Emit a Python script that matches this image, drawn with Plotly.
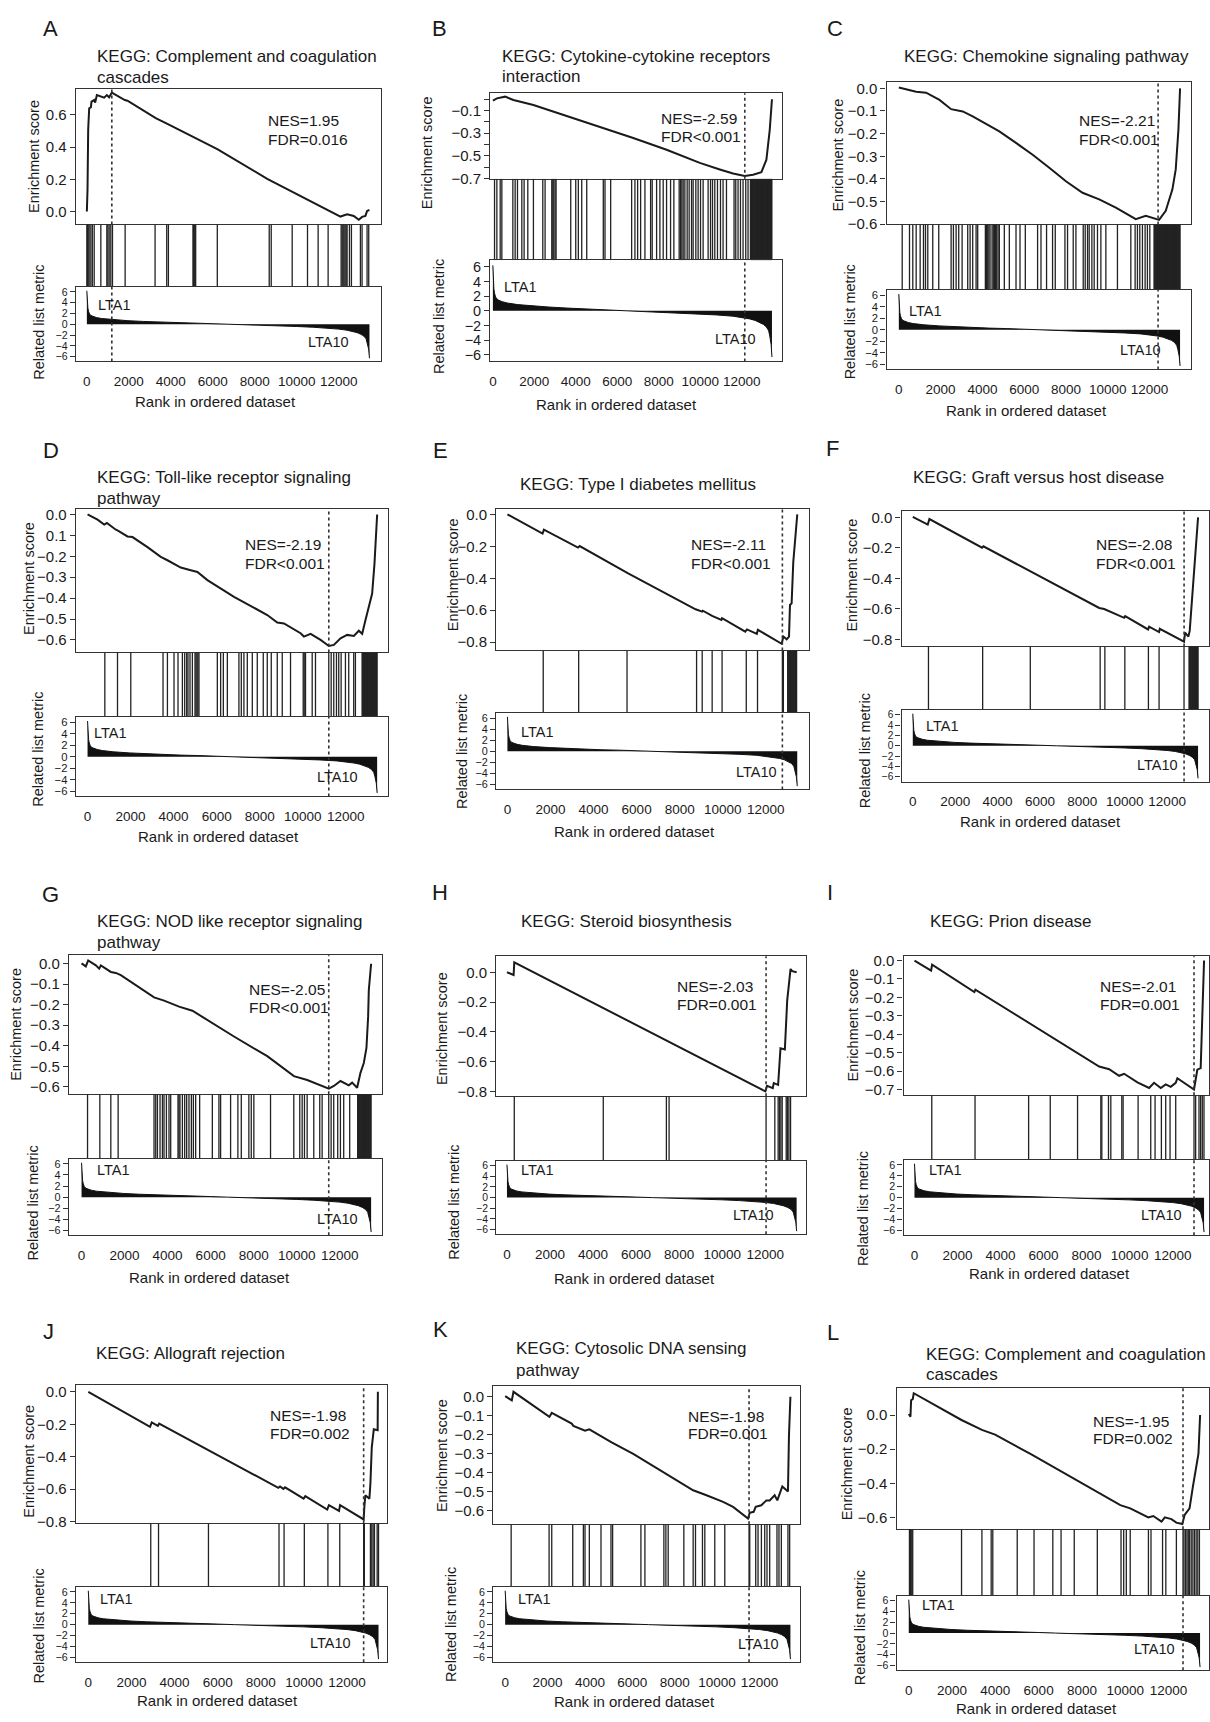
import plotly.graph_objects as go

# ------------------------------------------------------------------ data
rank_ticks = [0, 2000, 4000, 6000, 8000, 10000, 12000]
rank_tick_text = ["0", "2000", "4000", "6000", "8000", "10000", "12000"]
metric_ticks = [6, 4, 2, 0, -2, -4, -6]
metric_tick_text = ["6", "4", "2", "0", "\u22122", "\u22124", "\u22126"]

# ranked list metric (shared by all panels)
metric_rank = [0, 10, 25, 48, 80, 128, 200, 289, 450, 690, 1200, 1955, 2700, 3560, 4300,
               5166, 6000, 6770, 7600, 8377, 9200, 9981, 10800, 11584, 12000, 12387,
               12650, 12867, 13050, 13192, 13300, 13353, 13420, 13460]
metric_value = [6.2, 5.0, 4.0, 3.0, 2.4, 1.9, 1.6, 1.43, 1.25, 1.07, 0.85, 0.66, 0.52, 0.38,
                0.28, 0.2, 0.1, 0.0, -0.08, -0.18, -0.29, -0.41, -0.56, -0.73, -0.9, -1.1,
                -1.3, -1.55, -1.85, -2.2, -2.7, -3.4, -4.6, -6.3]

panel_letters = ["A", "B", "C", "D", "E", "F", "G", "H", "I", "J", "K", "L"]
panel_titles = [
    ["KEGG: Complement and coagulation", "cascades"],
    ["KEGG: Cytokine-cytokine receptors", "interaction"],
    ["KEGG: Chemokine signaling pathway"],
    ["KEGG: Toll-like receptor signaling", "pathway"],
    ["KEGG: Type I diabetes mellitus"],
    ["KEGG: Graft versus host disease"],
    ["KEGG: NOD like receptor signaling", "pathway"],
    ["KEGG: Steroid biosynthesis"],
    ["KEGG: Prion disease"],
    ["KEGG: Allograft rejection"],
    ["KEGG: Cytosolic DNA sensing", "pathway"],
    ["KEGG: Complement and coagulation", "cascades"],
]
nes_text = ["NES=1.95", "NES=-2.59", "NES=-2.21", "NES=-2.19", "NES=-2.11", "NES=-2.08",
            "NES=-2.05", "NES=-2.03", "NES=-2.01", "NES=-1.98", "NES=-1.98", "NES=-1.95"]
fdr_text = ["FDR=0.016", "FDR<0.001", "FDR<0.001", "FDR<0.001", "FDR<0.001", "FDR<0.001",
            "FDR<0.001", "FDR=0.001", "FDR=0.001", "FDR=0.002", "FDR=0.001", "FDR=0.002"]

# ---- A
es_rank_A = [0, 32, 63, 111, 190, 222, 349, 396, 476, 666, 825, 951, 1062, 1189, 1807, 1934,
             3281, 3836, 5104, 6213, 8591, 9859, 10969, 12078, 12395, 12712, 12950, 13108,
             13267, 13346, 13457]
es_score_A = [0.0, 0.138, 0.508, 0.641, 0.647, 0.682, 0.692, 0.676, 0.723, 0.713, 0.707, 0.723,
              0.709, 0.738, 0.692, 0.688, 0.580, 0.544, 0.462, 0.388, 0.203, 0.117, 0.045,
              -0.031, -0.017, -0.027, -0.051, -0.033, -0.027, 0.004, 0.01]
hits_A = [0, 30, 63, 110, 190, 260, 349, 666, 951, 1000, 1062, 1141, 1220, 1823, 3249, 3804,
          3884, 5056, 5080, 5103, 5140, 5183, 6213, 8686, 8781, 9780, 10509, 11015, 11491,
          12110, 12160, 12205, 12250, 12300, 12350, 12395, 12506, 12601, 13029, 13108, 13346,
          13425]
peak_A = 1189
es_tick_A = [0.0, 0.2, 0.4, 0.6]
es_tick_text_A = ["0.0", "0.2", "0.4", "0.6"]

# ---- B
es_rank_B = [0, 193, 592, 992, 1955, 2918, 3881, 5166, 6770, 8377, 9981, 10944, 11584, 12147,
             12547, 12951, 13192, 13353, 13460]
es_score_B = [-0.012, 0.008, 0.023, -0.007, -0.051, -0.109, -0.168, -0.247, -0.343, -0.446,
              -0.563, -0.621, -0.657, -0.679, -0.668, -0.644, -0.534, -0.270, 0.0]
hits_B = [80, 192, 353, 433, 963, 1074, 1186, 1396, 1507, 1684, 1955, 2407, 2518, 2840, 2889,
          2937, 3000, 3048, 3755, 3996, 4121, 4285, 4526, 5325, 5407, 5681, 6692, 6851, 6981,
          7126, 7333, 7607, 7684, 7896, 8055, 8214, 8377, 8570, 8729, 8984, 9052, 9114, 9177,
          9259, 9370, 9466, 9581, 9658, 9788, 9899, 10015, 10140, 10381, 10497, 10593, 10703,
          10833, 10977, 11102, 11266, 11632, 11714, 11825, 11941, 12066, 12196, 12306, 12422,
          12470, 12495, 12520, 12550, 12575, 12600, 12630, 12655, 12680, 12710, 12735, 12760,
          12790, 12815, 12840, 12870, 12895, 12920, 12950, 12975, 13000, 13030, 13055, 13080,
          13110, 13135, 13160, 13190, 13215, 13240, 13270, 13295, 13320, 13350, 13375, 13400,
          13430, 13455]
peak_B = 12150
es_tick_B = [0.0, -0.1, -0.2, -0.3, -0.4, -0.5, -0.6, -0.7]
es_tick_text_B = ["", "\u22120.1", "", "\u22120.3", "", "\u22120.5", "", "\u22120.7"]

# ---- C
es_rank_C = [0, 191, 511, 830, 1306, 1945, 2503, 3058, 3536, 4175, 4811, 5609, 6405, 7201, 7998,
             8794, 9590, 10386, 11023, 11341, 11819, 12138, 12456, 12775, 13094, 13253, 13381,
             13460]
es_score_C = [0.004, 0.0, -0.010, -0.015, -0.019, -0.051, -0.092, -0.102, -0.124, -0.156, -0.190,
              -0.241, -0.293, -0.351, -0.410, -0.461, -0.490, -0.527, -0.563, -0.578, -0.563,
              -0.571, -0.581, -0.541, -0.446, -0.358, -0.183, 0.0]
hits_C = [162, 511, 669, 830, 1021, 1180, 1276, 1386, 1624, 1911, 2503, 2613, 2742, 2867, 3029,
          3297, 3411, 3536, 3698, 3775, 4142, 4200, 4254, 4310, 4366, 4462, 4520, 4573, 4630,
          4685, 4750, 4811, 5050, 5289, 5609, 5800, 6054, 6641, 6804, 7071, 7358, 7487, 7950,
          8075, 8347, 8476, 8825, 8920, 9032, 9111, 9240, 9350, 9508, 9670, 9909, 10463, 11104,
          11309, 11420, 11533, 11659, 11787, 11897, 12012, 12215, 12245, 12270, 12300, 12330,
          12355, 12385, 12415, 12440, 12470, 12500, 12525, 12555, 12585, 12610, 12640, 12670,
          12695, 12725, 12755, 12780, 12810, 12840, 12865, 12895, 12925, 12950, 12980, 13010,
          13035, 13065, 13095, 13120, 13150, 13180, 13205, 13235, 13265, 13290, 13320, 13350,
          13375, 13405, 13435, 13458]
peak_C = 12408
es_tick_C = [0.0, -0.1, -0.2, -0.3, -0.4, -0.5, -0.6]
es_tick_text_C = ["0.0", "\u22120.1", "\u22120.2", "\u22120.3", "\u22120.4", "\u22120.5", "\u22120.6"]

# ---- D
es_rank_D = [0, 464, 774, 898, 1315, 1392, 1856, 2088, 2785, 3403, 3713, 4332, 4796, 5106, 5570,
             6807, 8354, 8818, 9128, 9901, 10056, 10366, 10830, 11216, 11448, 11758, 12067,
             12377, 12609, 12764, 12918, 13073, 13228, 13336, 13460]
es_score_D = [0.0, -0.025, -0.048, -0.041, -0.073, -0.076, -0.105, -0.108, -0.156, -0.203,
              -0.219, -0.254, -0.267, -0.275, -0.314, -0.394, -0.481, -0.517, -0.521, -0.568,
              -0.584, -0.571, -0.600, -0.629, -0.624, -0.592, -0.576, -0.581, -0.556, -0.571,
              -0.505, -0.441, -0.378, -0.235, 0.0]
hits_D = [803, 1392, 2009, 3508, 3712, 4019, 4204, 4408, 4515, 4608, 4668, 4761, 4872, 4993, 5040,
          5086, 5130, 5179, 6032, 6186, 6311, 6497, 7035, 7146, 7267, 7425, 7657, 7889, 8167,
          8353, 8538, 8817, 9049, 9434, 10023, 10070, 10130, 10441, 10594, 11211, 11323, 11443,
          11569, 11675, 11786, 11986, 12139, 12371, 12450, 12760, 12790, 12815, 12845, 12870,
          12900, 12930, 12955, 12985, 13010, 13040, 13070, 13095, 13125, 13150, 13180, 13210,
          13235, 13265, 13290, 13320, 13350, 13375, 13405, 13430, 13458]
peak_D = 11213
es_tick_D = [0.0, -0.1, -0.2, -0.3, -0.4, -0.5, -0.6]
es_tick_text_D = ["0.0", "0.1", "\u22120.2", "\u22120.3", "\u22120.4", "\u22120.5", "\u22120.6"]

# ---- E
es_rank_E = [0, 1632, 1694, 3278, 3355, 5508, 5585, 8739, 9046, 9077, 9508, 9938, 9969, 11046,
             11123, 11584, 11630, 12738, 12815, 12969, 13077, 13123, 13199, 13276, 13353, 13461]
es_score_E = [0.0, -0.120, -0.095, -0.208, -0.198, -0.360, -0.368, -0.594, -0.609, -0.603,
              -0.636, -0.661, -0.650, -0.734, -0.720, -0.748, -0.723, -0.810, -0.765, -0.782,
              -0.765, -0.567, -0.557, -0.297, -0.162, 0.0]
hits_E = [1663, 3309, 5555, 8785, 9046, 9508, 9969, 11092, 11615, 12769, 12815, 13015, 13045,
          13076, 13107, 13138, 13168, 13199, 13230, 13261, 13292, 13322, 13353, 13384, 13410,
          13430]
peak_E = 12769
es_tick_E = [0.0, -0.2, -0.4, -0.6, -0.8]
es_tick_text_E = ["0.0", "\u22120.2", "\u22120.4", "\u22120.6", "\u22120.8"]

# ---- F
es_rank_F = [0, 707, 785, 3269, 3331, 5576, 8796, 9031, 9973, 10020, 11103, 11150, 11621, 11653,
             12799, 12846, 13003, 13066, 13160, 13270, 13349, 13460]
es_score_F = [0.003, -0.047, -0.011, -0.199, -0.190, -0.357, -0.594, -0.601, -0.659, -0.648,
              -0.735, -0.717, -0.752, -0.731, -0.815, -0.756, -0.782, -0.745, -0.562, -0.410,
              -0.248, 0.0]
hits_F = [740, 3297, 5544, 8841, 9063, 10005, 11117, 11620, 12798, 13034, 13065, 13097, 13128,
          13160, 13191, 13223, 13255, 13286, 13317, 13348, 13380, 13411, 13435, 13458]
peak_F = 12800
es_tick_F = [0.0, -0.2, -0.4, -0.6, -0.8]
es_tick_text_F = ["0.0", "\u22120.2", "\u22120.4", "\u22120.6", "\u22120.8"]

# ---- G
es_rank_G = [0, 200, 308, 664, 819, 897, 1361, 1593, 1825, 3372, 3837, 4533, 5152, 7085, 8632,
             9870, 10489, 11108, 11495, 11727, 12036, 12423, 12578, 12810, 12965, 13120, 13243,
             13321, 13352, 13460]
es_score_G = [0.002, -0.013, 0.016, -0.008, -0.024, -0.008, -0.040, -0.045, -0.056, -0.164,
              -0.180, -0.209, -0.229, -0.355, -0.451, -0.548, -0.567, -0.593, -0.609, -0.596,
              -0.572, -0.593, -0.580, -0.605, -0.532, -0.484, -0.411, -0.258, -0.129, 0.0]
hits_G = [278, 849, 1360, 1700, 3369, 3448, 3527, 3648, 3759, 3833, 3944, 4065, 4144, 4483, 4529,
          4575, 4687, 4794, 4886, 4993, 5104, 5197, 5304, 5490, 6079, 6385, 6464, 6928, 7267,
          7425, 7777, 7889, 8009, 8784, 9865, 10143, 10255, 10362, 10487, 10794, 11072, 11183,
          11489, 11601, 11722, 11907, 12033, 12186, 12464, 12835, 12865, 12890, 12920, 12950,
          12980, 13010, 13040, 13070, 13100, 13130, 13160, 13190, 13220, 13250, 13280, 13310,
          13340, 13370, 13400, 13430, 13458]
peak_G = 11490
es_tick_G = [0.0, -0.1, -0.2, -0.3, -0.4, -0.5, -0.6]
es_tick_text_G = ["0.0", "\u22120.1", "\u22120.2", "\u22120.3", "\u22120.4", "\u22120.5", "\u22120.6"]

# ---- H
es_rank_H = [0, 309, 340, 4446, 4524, 7330, 12008, 12086, 12351, 12398, 12600, 12710, 12913,
             13022, 13100, 13178, 13256, 13460]
es_score_H = [0.0, -0.018, 0.067, -0.238, -0.244, -0.451, -0.800, -0.762, -0.778, -0.744, -0.756,
              -0.511, -0.518, -0.189, -0.082, 0.022, 0.007, 0.0]
hits_H = [340, 4475, 7408, 7533, 12040, 12447, 12601, 12663, 12728, 12790, 12976, 13038, 13102,
          13178]
peak_H = 12040
es_tick_H = [0.0, -0.2, -0.4, -0.6, -0.8]
es_tick_text_H = ["0.0", "\u22120.2", "\u22120.4", "\u22120.6", "\u22120.8"]

# ---- I
es_rank_I = [0, 773, 820, 2784, 2831, 5337, 8585, 9049, 9513, 9745, 10364, 10905, 11137, 11447,
             11679, 11911, 12143, 12220, 12994, 13071, 13148, 13303, 13380, 13460]
es_score_I = [0.0, -0.054, -0.022, -0.171, -0.158, -0.338, -0.575, -0.589, -0.625, -0.614,
              -0.661, -0.691, -0.663, -0.691, -0.672, -0.685, -0.663, -0.638, -0.700, -0.645,
              -0.592, -0.583, -0.234, 0.0]
hits_I = [804, 2815, 5306, 6311, 7580, 8662, 8708, 9018, 9126, 9636, 9698, 10394, 10982, 11183,
          11477, 11678, 11879, 12143, 12993, 13070, 13225, 13302, 13379, 13457]
peak_I = 12993
es_tick_I = [0.0, -0.1, -0.2, -0.3, -0.4, -0.5, -0.6, -0.7]
es_tick_text_I = ["0.0", "\u22120.1", "\u22120.2", "\u22120.3", "\u22120.4", "\u22120.5", "\u22120.6",
                  "\u22120.7"]

# ---- J
es_rank_J = [0, 2864, 2942, 3224, 3286, 5524, 5603, 8812, 8891, 9047, 9125, 9986, 10064, 11081,
             11159, 11629, 11676, 12771, 12803, 12850, 13038, 13085, 13147, 13241, 13420, 13430]
es_score_J = [0.0, -0.216, -0.189, -0.210, -0.196, -0.358, -0.361, -0.591, -0.583, -0.598,
              -0.588, -0.658, -0.643, -0.725, -0.698, -0.733, -0.698, -0.786, -0.708, -0.637,
              -0.658, -0.562, -0.342, -0.230, -0.236, 0.0]
hits_J = [2897, 3257, 5573, 8845, 9080, 10019, 11113, 11662, 12770, 12803, 13085, 13147, 13210,
          13272, 13397, 13460]
peak_J = 12770
es_tick_J = [0.0, -0.2, -0.4, -0.6, -0.8]
es_tick_text_J = ["0.0", "\u22120.2", "\u22120.4", "\u22120.6", "\u22120.8"]

# ---- K
es_rank_K = [0, 157, 314, 392, 1962, 2088, 2198, 3140, 3219, 3658, 3768, 3972, 4553, 5024, 6044,
             7614, 8870, 9498, 10283, 10754, 11461, 11539, 11727, 11821, 12088, 12324, 12481,
             12717, 12842, 13077, 13344, 13391, 13460]
es_score_K = [0.003, -0.009, -0.019, 0.026, -0.092, -0.106, -0.085, -0.141, -0.153, -0.171,
              -0.179, -0.171, -0.211, -0.240, -0.301, -0.405, -0.492, -0.518, -0.553, -0.579,
              -0.640, -0.610, -0.605, -0.579, -0.571, -0.545, -0.545, -0.518, -0.545, -0.472,
              -0.498, -0.206, 0.0]
hits_K = [283, 2073, 2198, 3188, 3690, 3768, 3972, 4522, 4993, 5071, 6406, 6594, 7489, 7584, 7693,
          8431, 8870, 8981, 9310, 9421, 9891, 10363, 11508, 11540, 11823, 11932, 12091, 12247,
          12355, 12482, 12826, 12920, 13032, 13344, 13424]
peak_K = 11508
es_tick_K = [0.0, -0.1, -0.2, -0.3, -0.4, -0.5, -0.6]
es_tick_text_K = ["0.0", "\u22120.1", "\u22120.2", "\u22120.3", "\u22120.4", "\u22120.5", "\u22120.6"]

# ---- L
es_rank_L = [0, 78, 108, 185, 230, 2436, 3380, 3990, 5664, 7187, 8710, 9776, 10233, 11070, 11299,
             11680, 11832, 12136, 12365, 12639, 12746, 12974, 13127, 13279, 13386, 13462]
es_score_L = [0.006, -0.010, 0.087, 0.093, 0.128, -0.029, -0.087, -0.115, -0.231, -0.340, -0.450,
              -0.528, -0.547, -0.600, -0.592, -0.625, -0.600, -0.610, -0.631, -0.639, -0.586,
              -0.547, -0.421, -0.305, -0.227, 0.0]
hits_L = [32, 78, 137, 183, 2438, 3380, 3808, 3883, 5011, 5788, 6656, 7037, 7646, 8712, 9808, 9931,
          10052, 10233, 11074, 11193, 11727, 11878, 12366, 12672, 12718, 12791, 12856, 12915,
          12974, 13051, 13129, 13203, 13279, 13356, 13430]
peak_L = 12672
es_tick_L = [0.0, -0.2, -0.4, -0.6]
es_tick_text_L = ["0.0", "\u22120.2", "\u22120.4", "\u22120.6"]

es_rank_all = [es_rank_A, es_rank_B, es_rank_C, es_rank_D, es_rank_E, es_rank_F,
               es_rank_G, es_rank_H, es_rank_I, es_rank_J, es_rank_K, es_rank_L]
es_score_all = [es_score_A, es_score_B, es_score_C, es_score_D, es_score_E, es_score_F,
                es_score_G, es_score_H, es_score_I, es_score_J, es_score_K, es_score_L]
hits_all = [hits_A, hits_B, hits_C, hits_D, hits_E, hits_F, hits_G, hits_H, hits_I, hits_J,
            hits_K, hits_L]
peak_all = [peak_A, peak_B, peak_C, peak_D, peak_E, peak_F, peak_G, peak_H, peak_I, peak_J,
            peak_K, peak_L]
es_tick_all = [es_tick_A, es_tick_B, es_tick_C, es_tick_D, es_tick_E, es_tick_F, es_tick_G,
               es_tick_H, es_tick_I, es_tick_J, es_tick_K, es_tick_L]
es_tick_text_all = [es_tick_text_A, es_tick_text_B, es_tick_text_C, es_tick_text_D,
                    es_tick_text_E, es_tick_text_F, es_tick_text_G, es_tick_text_H,
                    es_tick_text_I, es_tick_text_J, es_tick_text_K, es_tick_text_L]

# ------------------------------------------------------------------ layout (pixels)
W, H = 1210, 1722
GEOM = [
    dict(lab=(50, 25), tal="left", tx=94, ty=[53, 74], bx=(75, 381), es=(86, 222), met=(285, 360),
         xr=(-523, 14027), yr=(-0.080, 0.758), nes=(265, 117, 136), l1=(95, 303), l10=(351, 340),
         eyt=(33, 153), myt=(38, 320), xt=(215, 400)),
    dict(lab=(439, 25), tal="left", tx=500, ty=[53, 73], bx=(490, 782), es=(90, 176), met=(258, 360),
         xr=(-130, 13930), yr=(-0.703, 0.052), nes=(659, 115, 133), l1=(502, 285), l10=(758, 337),
         eyt=(427, 150), myt=(439, 315), xt=(617, 403)),
    dict(lab=(835, 25), tal="center", tx=1047, ty=[53], bx=(887, 1192), es=(79, 222), met=(288, 368),
         xr=(-588, 13985), yr=(-0.601, 0.026), nes=(1078, 117, 136), l1=(908, 309), l10=(1164, 348),
         eyt=(838, 152), myt=(850, 320), xt=(1027, 409)),
    dict(lab=(50, 450), tal="left", tx=94, ty=[477, 498], bx=(75, 388), es=(509, 653), met=(718, 798),
         xr=(-543, 13981), yr=(-0.660, 0.024), nes=(242, 544, 563), l1=(91, 734), l10=(360, 778),
         eyt=(28, 578), myt=(37, 750), xt=(218, 838)),
    dict(lab=(440, 450), tal="center", tx=638, ty=[484], bx=(496, 809), es=(509, 651), met=(714, 791),
         xr=(-522, 13990), yr=(-0.852, 0.031), nes=(689, 544, 563), l1=(519, 733), l10=(779, 773),
         eyt=(453, 575), myt=(462, 753), xt=(635, 833)),
    dict(lab=(833, 448), tal="center", tx=1039, ty=[477], bx=(902, 1210), es=(511, 647), met=(711, 783),
         xr=(-532, 13976), yr=(-0.847, 0.039), nes=(1095, 544, 563), l1=(925, 727), l10=(1181, 766),
         eyt=(852, 575), myt=(865, 752), xt=(1041, 823)),
    dict(lab=(50, 897), tal="left", tx=94, ty=[924, 945], bx=(68, 382), es=(958, 1098), met=(1163, 1240),
         xr=(-589, 13983), yr=(-0.637, 0.041), nes=(246, 992, 1011), l1=(94, 1174), l10=(360, 1224),
         eyt=(15, 1027), myt=(32, 1207), xt=(209, 1282)),
    dict(lab=(440, 895), tal="center", tx=627, ty=[924], bx=(496, 806), es=(959, 1100), met=(1165, 1239),
         xr=(-501, 13880), yr=(-0.833, 0.107), nes=(675, 989, 1008), l1=(519, 1174), l10=(776, 1219),
         eyt=(442, 1032), myt=(453, 1207), xt=(635, 1283)),
    dict(lab=(830, 895), tal="center", tx=1012, ty=[924], bx=(904, 1210), es=(959, 1099), met=(1164, 1240),
         xr=(-510, 13690), yr=(-0.731, 0.023), nes=(1099, 989, 1008), l1=(928, 1174), l10=(1185, 1220),
         eyt=(853, 1028), myt=(863, 1213), xt=(1050, 1278)),
    dict(lab=(48, 1337), tal="center", tx=190, ty=[1359], bx=(75, 387), es=(1391, 1530), met=(1594, 1670),
         xr=(-576, 13870), yr=(-0.810, 0.040), nes=(267, 1421, 1440), l1=(97, 1606), l10=(353, 1650),
         eyt=(28, 1467), myt=(38, 1633), xt=(217, 1708)),
    dict(lab=(440, 1335), tal="left", tx=514, ty=[1354, 1376], bx=(493, 800), es=(1392, 1531),
         met=(1594, 1670), xr=(-565, 13897), yr=(-0.671, 0.055), nes=(686, 1422, 1440),
         l1=(516, 1606), l10=(781, 1652), eyt=(442, 1462), myt=(450, 1632), xt=(635, 1709)),
    dict(lab=(833, 1338), tal="left", tx=925, ty=[1360, 1380], bx=(897, 1210), es=(1394, 1536),
         met=(1603, 1678), xr=(-566, 13873), yr=(-0.670, 0.157), nes=(1092, 1427, 1445),
         l1=(921, 1612), l10=(1178, 1657), eyt=(847, 1470), myt=(860, 1635), xt=(1037, 1716)),
]

FONT = "Liberation Sans, Arial, Helvetica, sans-serif"
INK = "#1a1a1a"
MET_RANGE = 6.9


def fx(px):
    return px / W


def fy(py):
    return 1 - py / H


def aname(i, kind):
    return f"{kind}axis" + ("" if i == 1 else str(i))


def aref(i, kind):
    return kind + ("" if i == 1 else str(i))


fig = go.Figure()
layout = dict(width=W, height=H, margin=dict(l=0, r=0, t=0, b=0), paper_bgcolor="white",
              plot_bgcolor="white", showlegend=False, font=dict(family=FONT, color=INK))
annotations = []
shapes = []

box_line = dict(showline=True, mirror=True, linecolor="#333333", linewidth=1.3,
                showgrid=False, zeroline=False)

for k, g in enumerate(GEOM):
    i_es, i_hit, i_met = 3 * k + 1, 3 * k + 2, 3 * k + 3
    xdom = [fx(g["bx"][0]), fx(g["bx"][1])]

    fig.add_trace(go.Scatter(x=es_rank_all[k], y=es_score_all[k], mode="lines",
                             line=dict(color=INK, width=2), hoverinfo="skip",
                             xaxis=aref(i_es, "x"), yaxis=aref(i_es, "y")))
    layout[aname(i_es, "x")] = dict(domain=xdom, range=list(g["xr"]), showticklabels=False,
                                    ticks="", anchor=aref(i_es, "y"), **box_line)
    layout[aname(i_es, "y")] = dict(domain=[fy(g["es"][1]), fy(g["es"][0])], range=list(g["yr"]),
                                    tickvals=es_tick_all[k], ticktext=es_tick_text_all[k],
                                    ticks="outside", ticklen=5, tickwidth=1.2, tickcolor="#333",
                                    tickfont=dict(size=15, color=INK), anchor=aref(i_es, "x"),
                                    **box_line)

    hx, hy = [], []
    for h in hits_all[k]:
        hx += [h, h, None]
        hy += [0, 1, None]
    fig.add_trace(go.Scatter(x=hx, y=hy, mode="lines", line=dict(color="#222222", width=1.3),
                             hoverinfo="skip", xaxis=aref(i_hit, "x"), yaxis=aref(i_hit, "y")))
    layout[aname(i_hit, "x")] = dict(domain=xdom, range=list(g["xr"]), visible=False,
                                     anchor=aref(i_hit, "y"))
    layout[aname(i_hit, "y")] = dict(domain=[fy(g["met"][0]), fy(g["es"][1])], range=[0, 1],
                                     visible=False, anchor=aref(i_hit, "x"))

    # metric tick label size: as large as the box allows without labels overlapping
    met_h = g["met"][1] - g["met"][0]
    spacing = 2 * met_h / (2 * MET_RANGE)
    met_font = max(9, min(15, spacing - 0.3))

    fig.add_trace(go.Scatter(x=metric_rank, y=metric_value, mode="lines", fill="tozeroy",
                             fillcolor="#111111", line=dict(color="#111111", width=1),
                             hoverinfo="skip", xaxis=aref(i_met, "x"), yaxis=aref(i_met, "y")))
    layout[aname(i_met, "x")] = dict(domain=xdom, range=list(g["xr"]), tickvals=rank_ticks,
                                     ticktext=rank_tick_text, ticks="outside", ticklen=7,
                                     tickcolor="rgba(0,0,0,0)", tickangle=0,
                                     tickfont=dict(size=13.5, color=INK), anchor=aref(i_met, "y"),
                                     **box_line)
    layout[aname(i_met, "y")] = dict(domain=[fy(g["met"][1]), fy(g["met"][0])],
                                     range=[-MET_RANGE, MET_RANGE],
                                     tickvals=metric_ticks, ticktext=metric_tick_text,
                                     ticks="outside", ticklen=5, tickwidth=1.2, tickcolor="#333",
                                     tickfont=dict(size=met_font, color=INK),
                                     anchor=aref(i_met, "x"), **box_line)

    for ia in (i_es, i_met):
        shapes.append(dict(type="line", xref=aref(ia, "x"), yref=aref(ia, "y") + " domain",
                           x0=peak_all[k], x1=peak_all[k], y0=0, y1=1,
                           line=dict(color="#333333", width=1.6, dash="dot")))

    annotations.append(dict(text=panel_letters[k], x=fx(g["lab"][0]), y=fy(g["lab"][1]),
                            xref="paper", yref="paper", xanchor="center", yanchor="middle",
                            showarrow=False, font=dict(size=22, color=INK)))
    for line, yy in zip(panel_titles[k], g["ty"]):
        annotations.append(dict(text=line, x=fx(g["tx"]), y=fy(yy), xref="paper", yref="paper",
                                xanchor=g["tal"], yanchor="middle", showarrow=False,
                                font=dict(size=17, color=INK)))
    annotations.append(dict(text=nes_text[k], x=fx(g["nes"][0]), y=fy(g["nes"][1]), xref="paper",
                            yref="paper", xanchor="left", yanchor="middle", showarrow=False,
                            font=dict(size=15.5, color=INK)))
    annotations.append(dict(text=fdr_text[k], x=fx(g["nes"][0]), y=fy(g["nes"][2]), xref="paper",
                            yref="paper", xanchor="left", yanchor="middle", showarrow=False,
                            font=dict(size=15.5, color=INK)))
    annotations.append(dict(text="LTA1", x=fx(g["l1"][0]), y=fy(g["l1"][1]), xref="paper",
                            yref="paper", xanchor="left", yanchor="middle", showarrow=False,
                            font=dict(size=14.5, color=INK)))
    annotations.append(dict(text="LTA10", x=fx(g["l10"][0]), y=fy(g["l10"][1]), xref="paper",
                            yref="paper", xanchor="right", yanchor="middle", showarrow=False,
                            font=dict(size=14.5, color=INK)))
    annotations.append(dict(text="Enrichment score", x=fx(g["eyt"][0]), y=fy(g["eyt"][1]),
                            xref="paper", yref="paper", xanchor="center", yanchor="middle",
                            textangle=-90, showarrow=False, font=dict(size=14.5, color=INK)))
    annotations.append(dict(text="Related list metric", x=fx(g["myt"][0]), y=fy(g["myt"][1]),
                            xref="paper", yref="paper", xanchor="center", yanchor="middle",
                            textangle=-90, showarrow=False, font=dict(size=14.5, color=INK)))
    annotations.append(dict(text="Rank in ordered dataset", x=fx(g["xt"][0]), y=fy(g["xt"][1]),
                            xref="paper", yref="paper", xanchor="center", yanchor="middle",
                            showarrow=False, font=dict(size=15, color=INK)))

layout["annotations"] = annotations
layout["shapes"] = shapes
fig.update_layout(**layout)
fig.write_html("out.html")
